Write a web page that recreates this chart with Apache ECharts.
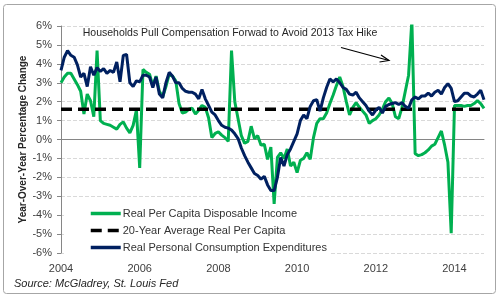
<!DOCTYPE html>
<html>
<head>
<meta charset="utf-8">
<script src="https://cdn.jsdelivr.net/npm/echarts@6/dist/echarts.min.js"></script>
<style>
    html, body {margin: 0; padding: 0; background: #fff;}
    #chart {width: 500px; height: 304px;}
</style>
</head>
<body>
<div id="chart"></div>
<script>

    // 年份（月度数据从 2004-01 开始）
    var years = ['2004', '2005', '2006', '2007', '2008', '2009', '2010', '2011', '2012', '2013', '2014'];

    // 坐标轴上显示的年份
    var tickYears = ['2004', '2006', '2008', '2010', '2012', '2014'];

    // Real Per Capita Disposable Income, y/y %
    var disposableIncome = [
        3.0, 3.3, 3.5, 3.5, 3.2, 2.9, 2.55, 1.35, 2.4, 2.05, 1.2, 4.7,
        1.0, 0.85, 0.8, 0.75, 0.65, 0.55, 0.8, 0.93, 0.6, 0.35, 0.75, 1.55,
        -1.5, 3.7, 3.55, 3.45, 2.85, 3.35, 2.55, 2.25, 2.8, 3.45, 3.35, 3.1,
        1.9, 1.4, 1.45, 1.6, 1.65, 1.35, 1.55, 1.8, 1.7, 1.15, 0.1, 0.32,
        0.4, 0.23, 0.1, -0.1, 4.7, 2.0, 1.1, 0.2, -0.2, -0.1, 0.7, 0.05,
        0.2, -0.3, -0.25, -1.05, -0.4, -3.4, -0.95, -0.7, -1.0, -0.5, -1.4, -1.2,
        -1.75, -1.1, -1.0, -0.7, -1.05, 0.1, 0.85, 1.1, 1.1, 1.4, 1.9, 2.35,
        2.85, 3.3, 2.8, 2.0, 1.3, 1.7, 1.95, 1.7, 1.5, 1.3, 0.85, 1.0,
        1.1, 1.3, 1.6, 2.0, 2.2, 1.9, 1.2, 1.1, 1.7, 2.55, 3.4, 6.3,
        -0.75, -0.85, -0.8, -0.7, -0.55, -0.35, -0.25, 0.1, 0.45, -0.3, -1.2, -4.95,
        1.8, 1.8, 1.8, 1.75, 1.8, 1.8, 1.9, 2.05, 1.9, 1.65
    ];

    // Real Personal Consumption Expenditures, y/y %
    var consumption = [
        3.65, 4.35, 4.7, 4.45, 4.35, 3.95, 3.3, 3.5, 2.8, 3.85, 3.4, 3.8,
        3.6, 3.75, 3.5, 3.65, 3.55, 4.1, 3.05, 4.45, 4.5, 3.0, 2.8, 3.1,
        3.05, 3.4, 3.4, 3.3, 2.75, 3.3, 2.4, 2.2, 3.0, 3.55, 3.35, 3.0,
        3.0, 2.7, 2.55, 2.5, 2.5, 2.4, 2.15, 2.65, 2.15, 1.8, 1.45, 1.3,
        1.0, 0.75, 0.65, 0.6, 0.5, 0.3, 0.05, -0.45, -0.85, -1.2, -1.5, -1.8,
        -1.9, -2.1, -1.95, -2.4, -2.7, -2.7, -2.0, -0.95, -1.4, -0.8, -0.5, -0.1,
        0.3, 1.0, 1.3, 1.1, 1.75, 2.05, 2.1, 1.5, 2.2, 2.75, 3.2, 3.05,
        3.2, 3.0, 2.75, 2.65, 2.4, 2.35, 2.5, 2.2, 2.0, 1.8, 1.5, 1.3,
        1.55, 1.7, 1.4, 1.75, 1.85, 1.9, 1.95, 1.85, 1.95, 1.75, 1.65, 2.1,
        2.25, 2.15, 2.3, 2.3, 2.45, 2.3, 2.5, 2.6, 2.4, 2.75, 2.95, 2.7,
        2.0, 2.05, 2.25, 2.45, 2.45, 2.3, 2.25, 2.4, 2.6, 2.1
    ];

    // 20-Year Average Real Per Capita
    var averageRate = 1.6;

    var seriesNames = [
        'Real Per Capita Disposable Income',
        '20-Year Average Real Per Capita',
        'Real Personal Consumption Expenditures'
    ];

    var FONT = 'Liberation Sans';

    var months = [];
    years.forEach(function (y) {
        for (var m = 1; m <= 12; m++) {
            months.push(y + '-' + (m < 10 ? '0' + m : m));
        }
    });
    months = months.slice(0, disposableIncome.length);

    var chart = echarts.init(document.getElementById('chart'));

    var option = {
        animation: false,
        textStyle: {fontFamily: FONT},
        grid: {left: 61, right: 16, top: 26, bottom: 51},
        legend: {
            orient: 'vertical',
            left: 64,
            top: 207,
            padding: [1, 4, 1, 25],
            backgroundColor: '#fff',
            itemWidth: 30,
            itemHeight: 11,
            itemGap: 6,
            itemStyle: {opacity: 0},
            lineStyle: {width: 3.5},
            textStyle: {fontSize: 11, color: '#333', fontFamily: FONT, padding: [0, 0, 0, -3]},
            data: seriesNames
        },
        xAxis: {
            type: 'category',
            boundaryGap: false,
            data: months,
            axisLine: {lineStyle: {color: '#868686'}},
            axisTick: {show: false},
            splitLine: {show: false},
            axisLabel: {
                color: '#404040',
                fontSize: 11,
                margin: 10,
                interval: function (index, value) {
                    return value.slice(5) === '01' && tickYears.indexOf(value.slice(0, 4)) >= 0;
                },
                formatter: function (value) {
                    return value.slice(0, 4);
                }
            }
        },
        yAxis: {
            type: 'value',
            min: -6,
            max: 6,
            interval: 1,
            name: 'Year-Over-Year Percentage Change',
            nameLocation: 'middle',
            nameRotate: 90,
            nameGap: 33,
            nameMoveOverlap: false,
            nameTextStyle: {fontSize: 10, fontWeight: 'bold', color: '#262626', fontFamily: FONT},
            axisLine: {show: true, lineStyle: {color: '#868686'}},
            axisTick: {show: true, length: 4, lineStyle: {color: '#868686'}},
            axisLabel: {
                color: '#404040',
                fontSize: 11,
                margin: 9,
                formatter: '{value}%'
            },
            splitLine: {lineStyle: {color: '#d9d9d9', type: [4, 2]}}
        },
        series: [
            {
                name: seriesNames[0],
                type: 'line',
                data: disposableIncome,
                symbol: 'none',
                lineStyle: {color: '#00b050', width: 3},
                itemStyle: {color: '#00b050'}
            },
            {
                name: seriesNames[1],
                type: 'line',
                data: months.map(function () {
                    return averageRate;
                }),
                symbol: 'none',
                lineStyle: {color: '#000', width: 3.5, type: [11, 6]},
                itemStyle: {color: '#000'}
            },
            {
                name: seriesNames[2],
                type: 'line',
                data: consumption,
                symbol: 'none',
                lineStyle: {color: '#002060', width: 3},
                itemStyle: {color: '#002060'}
            }
        ],
        graphic: [
            {
                type: 'rect',
                shape: {x: 3.5, y: 4.5, width: 492, height: 289, r: 3},
                style: {fill: 'none', stroke: '#a6a6a6', lineWidth: 1},
                silent: true
            },
            {
                type: 'text',
                x: 230,
                y: 33,
                style: {
                    text: 'Households Pull Compensation Forwad to Avoid 2013 Tax Hike',
                    font: '10.5px "' + FONT + '"',
                    fill: '#262626',
                    align: 'center',
                    verticalAlign: 'middle'
                }
            },
            {
                type: 'polyline',
                shape: {points: [[341, 47.5], [389, 60.5]]},
                style: {stroke: '#000', lineWidth: 1.2, fill: 'none'}
            },
            {
                type: 'polyline',
                shape: {points: [[381, 55], [389, 60.5], [379.5, 62]]},
                style: {stroke: '#000', lineWidth: 1.2, fill: 'none'}
            },
            {
                type: 'text',
                x: 14,
                y: 284,
                style: {
                    text: 'Source: McGladrey, St. Louis Fed',
                    font: 'italic 11px "' + FONT + '"',
                    fill: '#262626',
                    verticalAlign: 'middle'
                }
            }
        ]
    };

    chart.setOption(option);

</script>
</body>
</html>
